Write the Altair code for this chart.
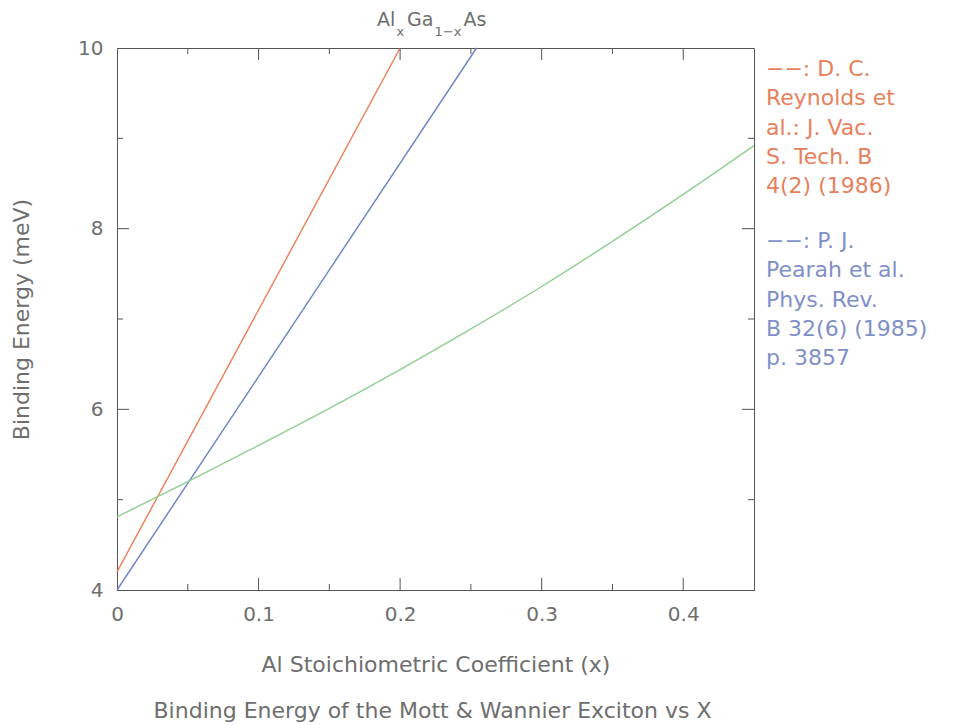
import altair as alt
import pandas as pd

# ---- data ----
red_x = [0.0, 0.2]
red_y = [4.2, 10.0]
blue_x = [0.0, 0.254]
blue_y = [4.0, 10.0]
green_x = [0.0, 0.05, 0.10, 0.15, 0.20, 0.25, 0.30, 0.35, 0.40, 0.45]
green_y = [4.81, 5.20, 5.60, 6.01, 6.44, 6.89, 7.36, 7.86, 8.38, 8.92]

x_ticks = [0, 0.1, 0.2, 0.3, 0.4]
x_minor = [0.05, 0.15, 0.25, 0.35]
y_ticks = [4, 6, 8, 10]
y_major_inner = [6, 8]
y_minor = [5, 7, 9]

legend_labels = [
    "−−: D. C.\nReynolds et\nal.: J. Vac.\nS. Tech. B\n4(2) (1986)",
    "−−: P. J.\nPearah et al.\nPhys. Rev.\nB 32(6) (1985)\np. 3857",
]
series_names = ["Reynolds", "Pearah", "Mott-Wannier"]
series_colors = ["#f07c55", "#6a82cc", "#8fcf8f"]
legend_text_colors = ["#e8805c", "#7f8fc8"]

x_title = "Al Stoichiometric Coefficient (x)"
y_title = "Binding Energy (meV)"
caption_text = "Binding Energy of the Mott & Wannier Exciton vs X"
title_texts = ["Al", "x", "Ga", "1−x", "As"]

W, H = 637, 542
FONT = "DejaVu Sans"
GREY = "#6e6e6e"
AXIS = "#555555"

rows = []
for name, xs, ys in [("Reynolds", red_x, red_y), ("Pearah", blue_x, blue_y),
                     ("Mott-Wannier", green_x, green_y)]:
    for a, b in zip(xs, ys):
        rows.append({"series": name, "x": a, "y": b})
lines_df = pd.DataFrame(rows)

xscale = alt.Scale(domain=[0, 0.45], nice=False, zero=False)
yscale = alt.Scale(domain=[4, 10], nice=False, zero=False)
cscale = alt.Scale(domain=series_names, range=series_colors)

x_axis = alt.Axis(values=x_ticks, format=".1~f", title=x_title, titlePadding=30,
                  labelPadding=14, ticks=False, grid=False, labelFlush=False)
y_axis = alt.Axis(values=y_ticks, title=y_title, titlePadding=44, labelPadding=14,
                  ticks=False, grid=False, labelFlush=False)

lines = alt.Chart(lines_df).mark_line(strokeWidth=1.4, interpolate="monotone").encode(
    x=alt.X("x:Q", scale=xscale, axis=x_axis, title=x_title),
    y=alt.Y("y:Q", scale=yscale, axis=y_axis, title=y_title),
    color=alt.Color("series:N", scale=cscale, legend=None),
    detail="series:N",
)


def xticks(vals, length, top):
    df = pd.DataFrame({"x": vals})
    y0, y1 = (0, length) if top else (H, H - length)
    return alt.Chart(df).mark_rule(color=AXIS, strokeWidth=1).encode(
        x=alt.X("x:Q", scale=xscale, axis=x_axis, title=x_title),
        y=alt.value(y0), y2=alt.value(y1))


def yticks(vals, length, right):
    df = pd.DataFrame({"y": vals})
    x0, x1 = (W, W - length) if right else (0, length)
    return alt.Chart(df).mark_rule(color=AXIS, strokeWidth=1).encode(
        y=alt.Y("y:Q", scale=yscale, axis=y_axis, title=y_title),
        x=alt.value(x0), x2=alt.value(x1))


tick_layers = [
    xticks(x_ticks[1:], 12, False), xticks(x_minor, 6, False),
    xticks(x_ticks[1:], 12, True), xticks(x_minor, 6, True),
    yticks(y_major_inner, 12, False), yticks(y_minor, 6, False),
    yticks(y_major_inner, 12, True), yticks(y_minor, 6, True),
]

# right-hand reference notes
note_layers = []
for label, col, ypos in zip(legend_labels, legend_text_colors, [28, 200]):
    note_layers.append(
        alt.Chart(pd.DataFrame({"t": [label]})).mark_text(
            align="left", baseline="alphabetic", font=FONT, fontSize=22,
            lineHeight=29.3, lineBreak="\n", color=col).encode(
            x=alt.value(W + 12), y=alt.value(ypos), text="t:N"))

# caption below the axis title
caption = alt.Chart(pd.DataFrame({"t": [caption_text]})).mark_text(
    font=FONT, fontSize=22, color=GREY, baseline="alphabetic", align="center").encode(
    x=alt.value(W / 2 - 3), y=alt.value(H + 128), text="t:N")

# title Al_x Ga_{1-x} As built from text pieces (main + subscripts)
title_pos = [(260, -22, 19), (279.5, -12.5, 13), (290, -22, 19),
             (317.5, -12.5, 13), (346.5, -22, 19)]
title_layers = []
for txt, (px, py, fs) in zip(title_texts, title_pos):
    title_layers.append(
        alt.Chart(pd.DataFrame({"t": [txt]})).mark_text(
            font=FONT, fontSize=fs, color=GREY, baseline="alphabetic", align="left").encode(
            x=alt.value(px), y=alt.value(py), text="t:N"))

chart = alt.layer(lines, *tick_layers, *note_layers, caption, *title_layers).properties(
    width=W, height=H,
    background="white",
    autosize=alt.AutoSizeParams(type="none"),
    padding={"left": 117, "top": 48, "right": 206, "bottom": 135},
).configure_view(stroke=AXIS, strokeWidth=1).configure_axis(
    domainColor=AXIS, labelColor=GREY, titleColor=GREY,
    labelFont=FONT, titleFont=FONT, labelFontSize=20, titleFontSize=22,
    titleFontWeight="normal",
)

chart.save("out.html", embed_options={"renderer": "svg", "actions": False})
